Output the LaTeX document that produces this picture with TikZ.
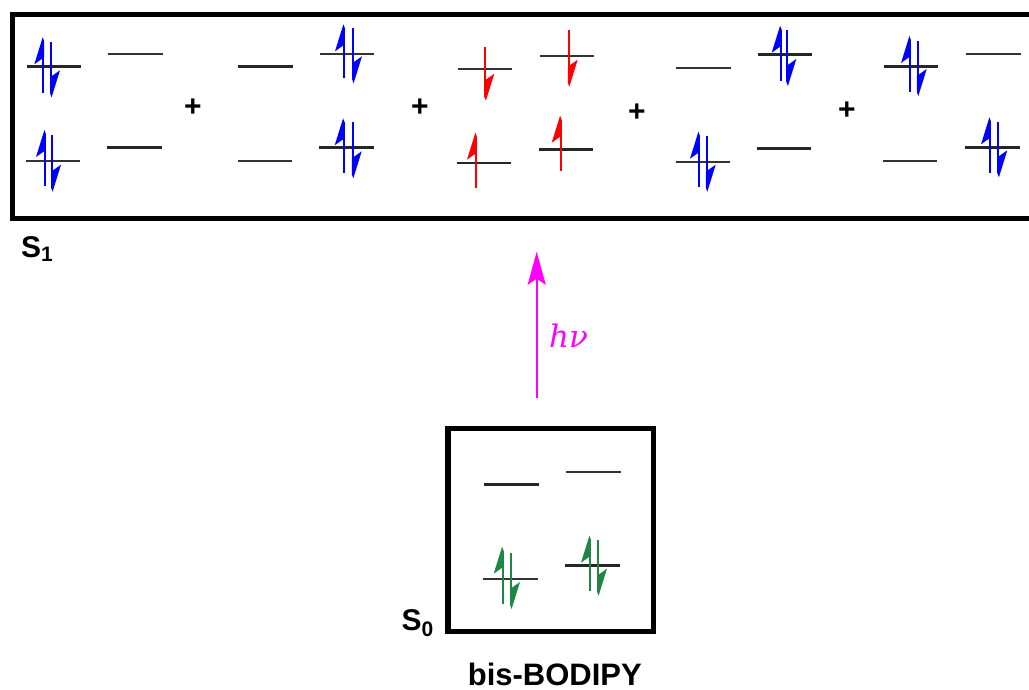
\documentclass[tikz,border=0pt]{standalone}
\usepackage{fontspec}
\setmainfont{Liberation Sans}
\newfontfamily\hvfont{DejaVu Serif}
\usetikzlibrary{arrows.meta}
\definecolor{eblue}{RGB}{0,0,255}
\definecolor{ered}{RGB}{255,0,0}
\definecolor{egreen}{RGB}{30,135,70}
\definecolor{emag}{RGB}{255,0,255}
\tikzset{
  thicklev/.style={line width=2.8pt, black!85},
  thinlev/.style={line width=2pt, black!80},
  statebox/.style={line width=5.5pt, black},
  plussign/.style={font=\fontsize{30}{30}\selectfont\bfseries, inner sep=0pt},
  statelabel/.style={font=\fontsize{30}{32}\selectfont\bfseries, inner sep=0pt, anchor=base west},
}
\newcommand{\mlev}[4]{\draw[#4] (#1,#3) -- (#2,#3);}
% up harpoon: colour, x, y bottom, y tip (top)
\newcommand{\harpup}[4]{%
  \draw[#1, line width=1.8pt] (#2,#3) -- (#2,#4+4);
  \fill[#1] (#2-0.6,#4) -- (#2-9,#4+27) -- (#2+0.9,#4+20) -- (#2+0.9,#4+4) -- cycle;}
% down harpoon: colour, x, y top, y tip (bottom)
\newcommand{\harpdn}[4]{%
  \draw[#1, line width=1.8pt] (#2,#3) -- (#2,#4-4);
  \fill[#1] (#2+0.6,#4) -- (#2+9,#4-27) -- (#2-0.9,#4-20) -- (#2-0.9,#4-4) -- cycle;}
\begin{document}
\begin{tikzpicture}[x=1pt,y=-1pt]
\clip (0,0) rectangle (1029,690);
\useasboundingbox (0,0) rectangle (1029,690);
% S1 box (runs past right edge)
\draw[statebox] (12.5,14.5) rectangle (1045,218.5);
\node[statelabel] (s1) at (21,257) {S\raisebox{-5pt}{\fontsize{21}{21}\selectfont 1}};
% configuration 1
\mlev{27}{81}{66.7}{thicklev}
\mlev{26}{80}{161}{thinlev}
\mlev{108}{163}{53.7}{thinlev}
\mlev{107}{162}{147.7}{thicklev}
\harpup{eblue}{43.3}{92.7}{37.3}
\harpdn{eblue}{51}{42.3}{97.3}
\harpup{eblue}{45}{186}{130}
\harpdn{eblue}{52}{135}{191.7}
\node[plussign] (p1) at (193,108) {+};
% configuration 2
\mlev{238}{293}{66.7}{thicklev}
\mlev{238}{292}{161}{thinlev}
\mlev{320}{374}{53.7}{thinlev}
\mlev{319}{374}{147.7}{thicklev}
\harpup{eblue}{344}{78.3}{24.3}
\harpdn{eblue}{353}{28.3}{83.3}
\harpup{eblue}{343.7}{173}{118.3}
\harpdn{eblue}{352.7}{121.7}{178.3}
\node[plussign] (p2) at (420,108) {+};
% configuration 3
\mlev{458}{512}{69}{thinlev}
\mlev{457}{511}{163}{thicklev}
\mlev{540}{594}{55.7}{thinlev}
\mlev{539}{593}{149.7}{thicklev}
\harpdn{ered}{485.3}{46.7}{100.7}
\harpup{ered}{476}{188}{132.7}
\harpdn{ered}{568.7}{30}{86.7}
\harpup{ered}{560.7}{170.7}{115.7}
\node[plussign] (p3) at (637,113) {+};
% configuration 4
\mlev{676}{731}{68}{thinlev}
\mlev{676}{730}{161.7}{thinlev}
\mlev{758}{812}{54.7}{thicklev}
\mlev{757}{811}{148.7}{thicklev}
\harpup{eblue}{699}{186.7}{131.7}
\harpdn{eblue}{706.7}{136}{191.7}
\harpup{eblue}{780.7}{81}{25.7}
\harpdn{eblue}{787.3}{30}{86}
\node[plussign] (p4) at (847,111) {+};
% configuration 5
\mlev{884}{938.3}{66.7}{thicklev}
\mlev{883}{937}{161}{thinlev}
\mlev{966}{1020.7}{53.7}{thinlev}
\mlev{965}{1020}{147.7}{thicklev}
\harpup{eblue}{910}{91.7}{36}
\harpdn{eblue}{917.7}{40.7}{96}
\harpup{eblue}{990}{173.3}{117.3}
\harpdn{eblue}{998.3}{122.3}{177.3}
% excitation arrow
\coordinate (hvstart) at (536.7,398);
\coordinate (hvend) at (536.7,251.7);
\draw[emag, line width=2pt, -{Stealth[length=33pt, width=18pt, inset=6pt]}] (hvstart) -- (hvend);
\node[emag, font=\fontsize{31}{31}\selectfont\hvfont\itshape, inner sep=0pt, anchor=base west] (hv) at (549,347) {hν};
% S0 box
\draw[statebox] (448,428.7) rectangle (653.3,631.5);
\node[statelabel] (s0) at (401.5,630.7) {S\raisebox{-6pt}{\fontsize{21}{21}\selectfont 0}};
\mlev{484}{538.7}{484.3}{thicklev}
\mlev{566}{621}{471.7}{thinlev}
\mlev{483}{538}{578.7}{thinlev}
\mlev{565}{620}{565.7}{thicklev}
\harpup{egreen}{502.7}{604}{546.7}
\harpdn{egreen}{511}{553.3}{609}
\harpup{egreen}{590}{591}{535.7}
\harpdn{egreen}{598}{540}{595.7}
\node[font=\fontsize{31}{31}\selectfont\bfseries, inner sep=0pt, anchor=base] (bis) at (554.8,685) {bis-BODIPY};
\end{tikzpicture}
\end{document}
